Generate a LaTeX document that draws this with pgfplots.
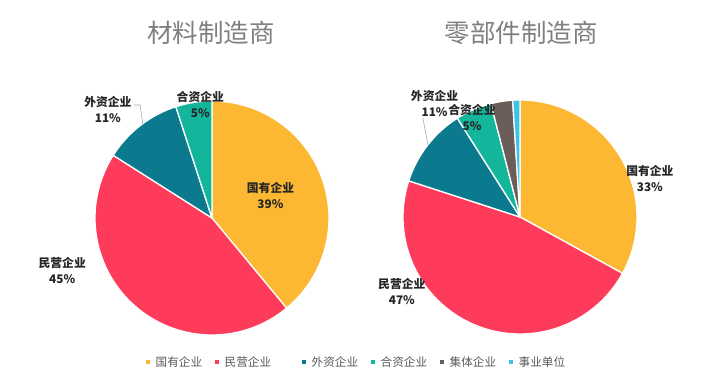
\documentclass[border=0pt]{standalone}
\usepackage{pgfplots}
\pgfplotsset{compat=1.18}
\usepackage{fontspec}
\setmainfont{Noto Sans CJK SC}
\definecolor{guoyou}{HTML}{FDB833}
\definecolor{minying}{HTML}{FF3B5C}
\definecolor{waizi}{HTML}{0B7A8E}
\definecolor{hezi}{HTML}{13B59B}
\definecolor{jiti}{HTML}{6B5D57}
\definecolor{shiye}{HTML}{3EC3E8}
\definecolor{lbl}{HTML}{262626}
\definecolor{ttl}{HTML}{7F7F7F}
\definecolor{leg}{HTML}{595959}
% slice: color, cumulative start (%), value (%)
\newcommand\slice[3]{%
  \pgfmathsetmacro\sA{90-3.6*(#2+#3)}%
  \pgfmathsetmacro\sB{90-3.6*(#2)}%
  \edef\doslice{\noexpand\addplot[forget plot, fill=#1, draw=white, line width=1.3pt, line join=round, domain=\sA:\sB, samples=90, variable=\noexpand\t] ({cos(\noexpand\t)},{sin(\noexpand\t)}) -- (axis cs:0,0) -- cycle;}%
  \doslice
}
\pgfplotsset{pieaxis/.style={
  scale only axis, width=234pt, height=234pt,
  xmin=-1, xmax=1, ymin=-1, ymax=1,
  hide axis, clip=false, anchor=origin}}
\tikzset{lab/.style={align=center, text=lbl, font=\fontsize{11.8}{16}\selectfont\bfseries}}
\begin{document}
\begin{tikzpicture}
\useasboundingbox (0,0) rectangle (709pt,390pt);
% left pie
\begin{axis}[pieaxis, at={(212pt,172pt)},
  legend columns=6,
  legend style={at={(axis description cs:1.118,-0.115)}, anchor=center, draw=none, fill=none,
    font=\fontsize{11.6}{13}\selectfont\color{leg}, column sep=4pt,
    /tikz/every even column/.append style={column sep=11pt}},
  legend image code/.code={\fill[#1] (-1.6pt,-1.6pt) rectangle (1.6pt,1.6pt);}]
\slice{guoyou}{0}{39}
\slice{minying}{39}{45}
\slice{waizi}{84}{11}
\slice{hezi}{95}{5}
\addplot[forget plot, gray!70, line width=0.6pt] coordinates {(-0.667,0.966) (-0.615,0.966) (-0.59,0.795)};
\node[lab] at (axis cs:0.50,0.19) {国有企业\\39\%};
\node[lab] at (axis cs:-1.28,-0.45) {民营企业\\45\%};
\node[lab] at (axis cs:-0.89,0.93) {外资企业\\11\%};
\node[lab] at (axis cs:-0.10,0.97) {合资企业\\5\%};
\node at (axis cs:-0.01,1.58) {\fontsize{25.5}{28}\selectfont\color{ttl}材料制造商};
\addlegendimage{guoyou}\addlegendentry{国有企业}
\addlegendimage{minying}\addlegendentry{民营企业\rule{18pt}{0pt}}
\addlegendimage{waizi}\addlegendentry{外资企业}
\addlegendimage{hezi}\addlegendentry{合资企业}
\addlegendimage{jiti}\addlegendentry{集体企业}
\addlegendimage{shiye}\addlegendentry{事业单位}
\end{axis}
% right pie
\begin{axis}[pieaxis, at={(520pt,173pt)}]
\slice{guoyou}{0}{33}
\slice{minying}{33}{47}
\slice{waizi}{80}{11}
\slice{hezi}{91}{5}
\slice{jiti}{96}{3}
\slice{shiye}{99}{1}
\addplot[forget plot, gray!70, line width=0.6pt] coordinates {(-0.83,0.846) (-0.786,0.615)};
\node[lab] at (axis cs:1.11,0.33) {国有企业\\33\%};
\node[lab] at (axis cs:-1.01,-0.64) {民营企业\\47\%};
\node[lab] at (axis cs:-0.73,0.97) {外资企业\\11\%};
\node[lab] at (axis cs:-0.41,0.85) {合资企业\\5\%};
\node at (axis cs:0.01,1.573) {\fontsize{25.5}{28}\selectfont\color{ttl}零部件制造商};
\end{axis}
\end{tikzpicture}
\end{document}
